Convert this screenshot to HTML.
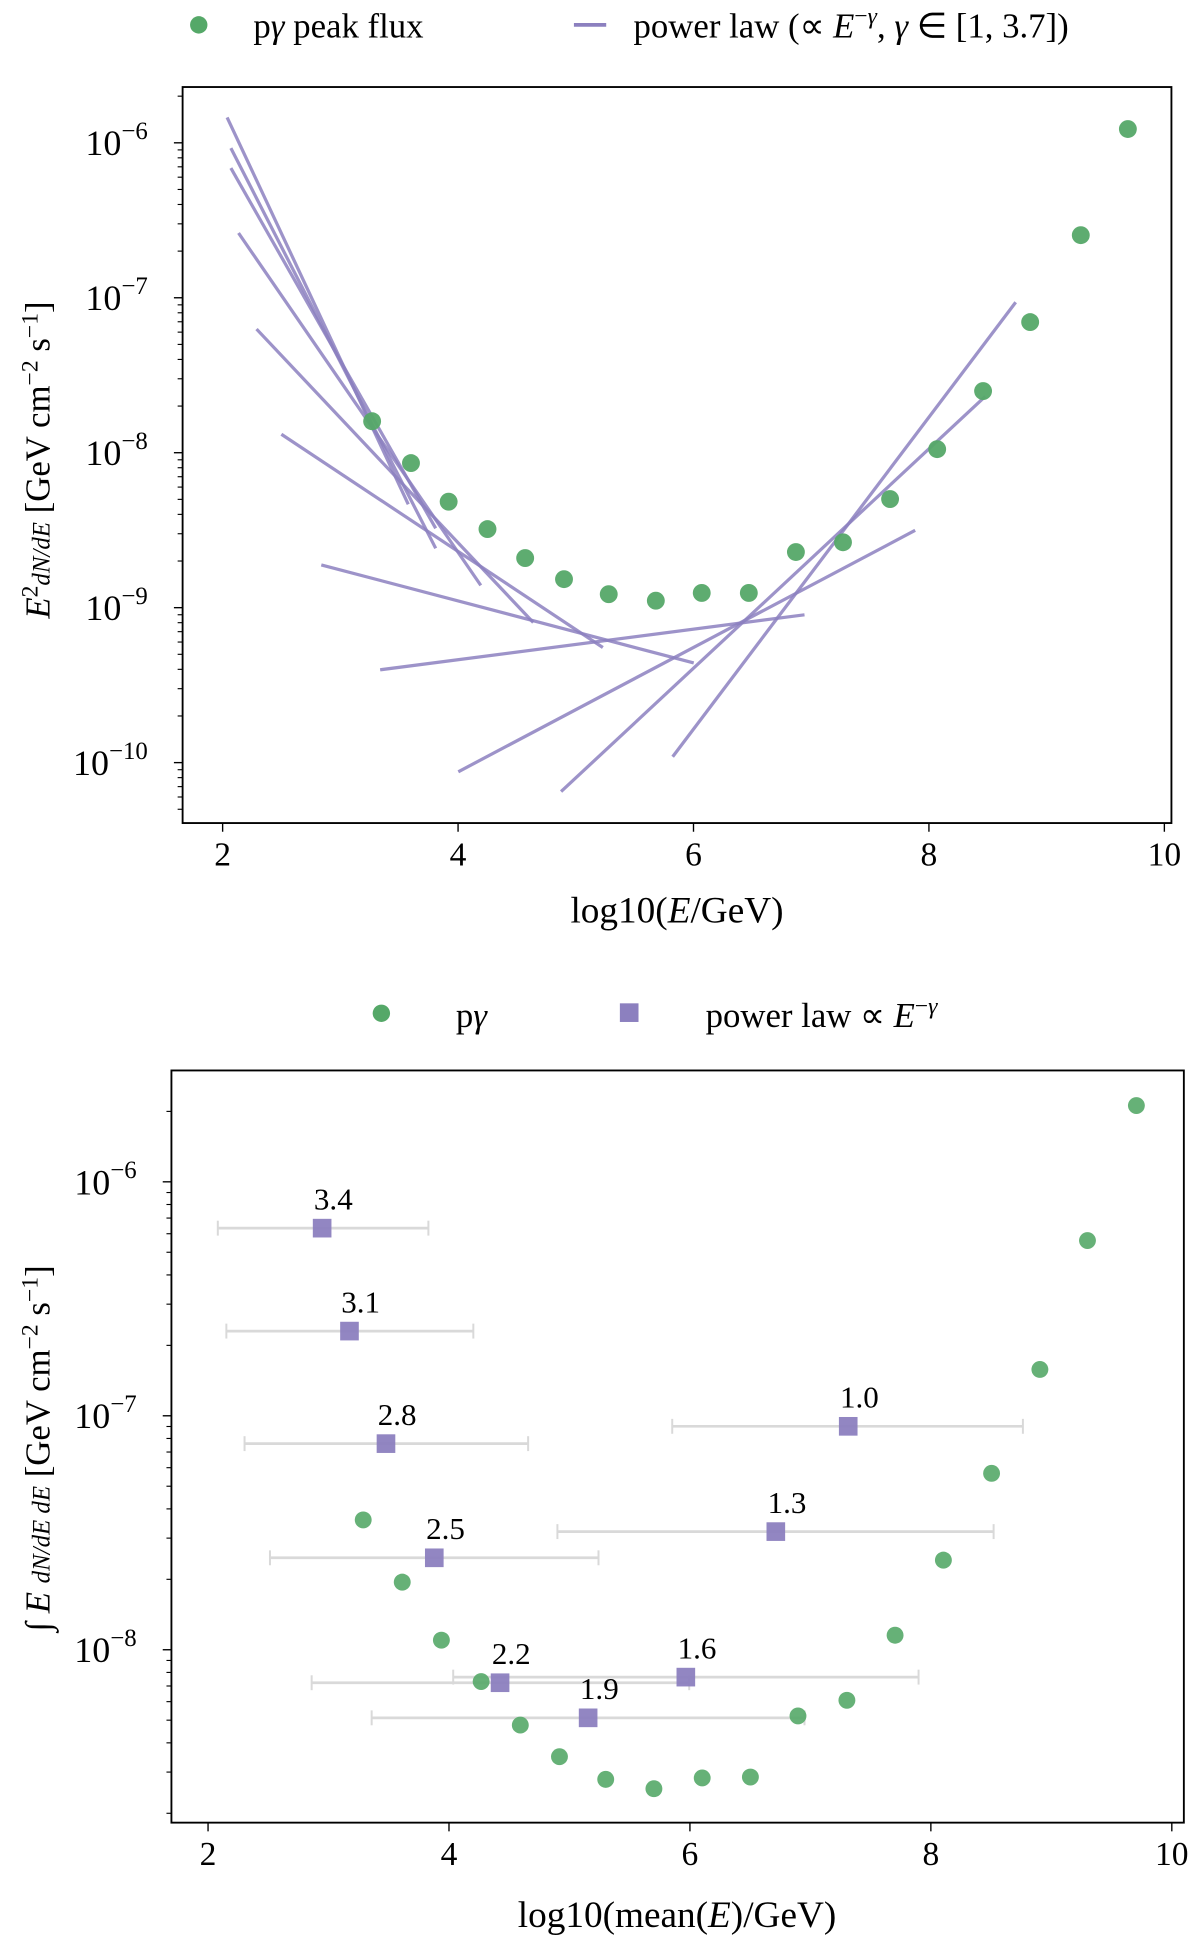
<!DOCTYPE html>
<html><head><meta charset="utf-8">
<style>
html,body{margin:0;padding:0;background:#fff;}
svg{display:block;}
text{font-family:"Liberation Serif",serif;fill:#000;}
</style></head>
<body>
<svg id="fig" width="1200" height="1942" viewBox="0 0 966 1562" preserveAspectRatio="none" xmlns="http://www.w3.org/2000/svg"></svg>
<script>
// ---- Top chart data ----
const topPointX = [3.27,3.60,3.92,4.25,4.57,4.90,5.28,5.68,6.07,6.47,6.87,7.27,7.67,8.07,8.46,8.86,9.29,9.69];
const topPointLogY = [-7.797,-8.067,-8.316,-8.493,-8.680,-8.816,-8.913,-8.955,-8.905,-8.905,-8.641,-8.578,-8.299,-7.977,-7.602,-7.157,-6.596,-5.911];
const lineX0 = [2.038,2.070,2.070,2.135,2.288,2.499,2.838,3.338,4.002,4.875,5.823];
const lineLogY0 = [-5.836,-6.034,-6.163,-6.582,-7.202,-7.881,-8.724,-9.401,-10.059,-10.187,-9.962];
const lineX1 = [3.577,3.810,3.810,4.193,4.639,5.230,6.002,6.943,7.883,8.478,8.737];
const lineLogY1 = [-8.333,-8.617,-8.488,-8.856,-9.096,-9.257,-9.357,-9.046,-8.501,-7.637,-7.029];
const topXTicks = [2,4,6,8,10];
const topYTicks = [-6,-7,-8,-9,-10];
// ---- Bottom chart data ----
const botPointX = [9.706,9.300,8.905,8.504,8.104,7.703,7.303,6.897,6.502,6.102,5.701,5.301,4.917,4.592,4.267,3.937,3.612,3.288];
const botPointLogY = [-5.674,-6.251,-6.802,-7.246,-7.617,-7.938,-8.216,-8.283,-8.544,-8.548,-8.594,-8.554,-8.457,-8.322,-8.136,-7.959,-7.711,-7.445];
const gammaLabels = ["3.4","3.1","2.8","2.5","2.2","1.9","1.6","1.3","1.0"];
const sqX = [2.947,3.174,3.477,3.878,4.424,5.155,5.966,6.713,7.314];
const sqLogY = [-6.198,-6.638,-7.119,-7.607,-8.141,-8.291,-8.117,-7.495,-7.045];
const errLo = [2.081,2.152,2.303,2.514,2.860,3.358,4.035,4.900,5.853];
const errHi = [3.829,4.202,4.657,5.241,5.994,6.951,7.898,8.521,8.764];
const botXTicks = [2,4,6,8,10];
const botYTicks = [-6,-7,-8];

const NS = "http://www.w3.org/2000/svg";
const svg = document.getElementById('fig');
function mk(tag, attrs, parent){ const e=document.createElementNS(NS,tag); for(const k in attrs) e.setAttribute(k,attrs[k]); (parent||svg).appendChild(e); return e; }
const GREEN="#55a868", PURPLE="#8c80bf";

function axes(cfg){
  const {L,R,T,B,xmin,xmax,ymin,ymax} = cfg;
  const sx = v => L + (v-xmin)/(xmax-xmin)*(R-L);
  const sy = v => B - (v-ymin)/(ymax-ymin)*(B-T);
  return {sx,sy};
}
function drawFrame(cfg, sx, sy, xticks, yticks, name){
  const g = mk('g',{});
  
  
  for(let d=Math.floor(cfg.ymin); d<=Math.ceil(cfg.ymax); d++){
    for(let m=2;m<=9;m++){
      const v=d+Math.log10(m);
      if(v<cfg.ymin||v>cfg.ymax) continue;
      mk('line',{x1:cfg.L-4,x2:cfg.L,y1:sy(v),y2:sy(v),stroke:'#000','stroke-width':0.9},g);
    }
  }
  yticks.forEach(t=>{
    const y=sy(t);
    mk('line',{x1:cfg.L-7,x2:cfg.L,y1:y,y2:y,stroke:'#000','stroke-width':1.1},g);
    const tx=mk('text',{x:cfg.L-28,y:y+10,'text-anchor':'end','font-size':29},g);
    
    
    tx.textContent='10';
    const sup=mk('tspan',{dy:-13,'font-size':20},tx); sup.textContent='\u2212'+Math.abs(t);
  });
  xticks.forEach(t=>{
    const x=sx(t);
    mk('line',{x1:x,x2:x,y1:cfg.B,y2:cfg.B+7,stroke:'#000','stroke-width':1.1},g);
    const tx=mk('text',{x:x,y:cfg.B+34,'text-anchor':'middle','font-size':27},g);
    
    
    tx.textContent=t;
  });
  mk('rect',{x:cfg.L,y:cfg.T,width:cfg.R-cfg.L,height:cfg.B-cfg.T,fill:'none',stroke:'#000','stroke-width':1.5},g);
}

// ===== TOP CHART =====
const topCfg={L:147,R:943,T:70,B:662,xmin:1.66,xmax:10.06,ymin:-10.39,ymax:-5.64};
const TA=axes(topCfg);
const topPlot=mk('g',{});


for(let i=0;i<lineX0.length;i++){
  const l=mk('line',{x1:TA.sx(lineX0[i]),y1:TA.sy(lineLogY0[i]),x2:TA.sx(lineX1[i]),y2:TA.sy(lineLogY1[i]),stroke:PURPLE,'stroke-width':2.6,'stroke-opacity':0.85},topPlot);
  
  
}
for(let i=0;i<topPointX.length;i++){
  const c=mk('circle',{cx:TA.sx(topPointX[i]),cy:TA.sy(topPointLogY[i]),r:7.2,fill:GREEN,'fill-opacity':0.95},topPlot);
  
  
}
drawFrame(topCfg,TA.sx,TA.sy,topXTicks,topYTicks,'top');

// ===== BOTTOM CHART =====
const botCfg={L:138,R:953,T:861,B:1466,xmin:1.696,xmax:10.10,ymin:-8.739,ymax:-5.524};
const BA=axes(botCfg);
const botPlot=mk('g',{});


for(let i=0;i<sqX.length;i++){
  const y=BA.sy(sqLogY[i]);
  const e=mk('g',{},botPlot);
  
  
  mk('line',{x1:BA.sx(errLo[i]),x2:BA.sx(errHi[i]),y1:y,y2:y,stroke:'#d9d9d9','stroke-width':2.2},e);
  mk('line',{x1:BA.sx(errLo[i]),x2:BA.sx(errLo[i]),y1:y-6,y2:y+6,stroke:'#d9d9d9','stroke-width':1.6},e);
  mk('line',{x1:BA.sx(errHi[i]),x2:BA.sx(errHi[i]),y1:y-6,y2:y+6,stroke:'#d9d9d9','stroke-width':1.6},e);
}
for(let i=0;i<botPointX.length;i++){
  const c=mk('circle',{cx:BA.sx(botPointX[i]),cy:BA.sy(botPointLogY[i]),r:6.8,fill:GREEN,'fill-opacity':0.9},botPlot);
  
  
}
for(let i=0;i<sqX.length;i++){
  const x=BA.sx(sqX[i]), y=BA.sy(sqLogY[i]);
  const s=mk('rect',{x:x-7.5,y:y-7.5,width:15,height:15,fill:PURPLE,'fill-opacity':0.95},botPlot);
  
  
  const t=mk('text',{x:x+9,y:y-15,'text-anchor':'middle','font-size':25},botPlot);
  
  
  t.textContent=gammaLabels[i];
}
drawFrame(botCfg,BA.sx,BA.sy,botXTicks,botYTicks,'bottom');
</script>

<script>
(function(){
const svg=document.getElementById('fig');
svg.insertAdjacentHTML('beforeend',`
<g>
  <circle cx="160" cy="20" r="7" fill="#55a868"/>
  <text x="204" y="30" font-size="28">p<tspan font-style="italic">γ</tspan> peak flux</text>
  <line x1="462" x2="488" y1="20" y2="20" stroke="#8c80bf" stroke-width="3"/>
  <text x="510" y="30" font-size="28">power law (∝ <tspan font-style="italic">E</tspan><tspan dy="-11" font-size="19">−<tspan font-style="italic">γ</tspan></tspan><tspan dy="11">, </tspan><tspan font-style="italic">γ</tspan> ∈ [1, 3.7])</text>
</g>
<text x="545" y="742" font-size="30" text-anchor="middle">log10(<tspan font-style="italic">E</tspan>/GeV)</text>
<text transform="translate(40,370) rotate(-90)" font-size="28" text-anchor="middle"><tspan font-style="italic">E</tspan><tspan dy="-10" font-size="19">2</tspan><tspan dy="10" font-style="italic" font-size="20">dN/dE</tspan> [GeV cm<tspan dy="-10" font-size="19">−2</tspan><tspan dy="10"> s</tspan><tspan dy="-10" font-size="19">−1</tspan><tspan dy="10">]</tspan></text>
<g>
  <circle cx="307" cy="815" r="7" fill="#55a868"/>
  <text x="367" y="826" font-size="28">p<tspan font-style="italic">γ</tspan></text>
  <rect x="499" y="807" width="15" height="15" fill="#8c80bf"/>
  <text x="568" y="826" font-size="28">power law ∝ <tspan font-style="italic">E</tspan><tspan dy="-11" font-size="19">−<tspan font-style="italic">γ</tspan></tspan></text>
</g>
<text x="545" y="1550" font-size="30" text-anchor="middle">log10(mean(<tspan font-style="italic">E</tspan>)/GeV)</text>
<text transform="translate(40,1165) rotate(-90)" font-size="28" text-anchor="middle">∫ <tspan font-style="italic">E</tspan> <tspan font-style="italic" font-size="20">dN/dE dE</tspan> [GeV cm<tspan dy="-10" font-size="19">−2</tspan><tspan dy="10"> s</tspan><tspan dy="-10" font-size="19">−1</tspan><tspan dy="10">]</tspan></text>
`);
})();
</script>
</body></html>
